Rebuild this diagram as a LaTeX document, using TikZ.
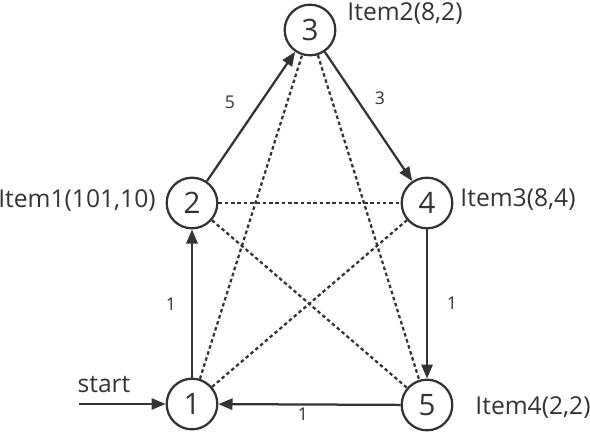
\documentclass[tikz,border=0pt]{standalone}
\usepackage{fontspec}
\setmainfont{Open Sans}
\usetikzlibrary{arrows.meta,positioning}

\begin{document}
\begin{tikzpicture}[x=0.025cm,y=-0.025cm,>={Triangle[length=10pt,width=8pt]},
  line width=1.6pt,draw=black!80,text=black!80,
  state/.style={draw,circle,minimum size=36pt,inner sep=0pt,font=\fontsize{21}{24}\selectfont},
  item/.style={font=\fontsize{17.5}{20}\selectfont},
  weight/.style={font=\fontsize{12.5}{14}\selectfont},
  link/.style={dash pattern=on 2.5pt off 2pt}]
\useasboundingbox (0,0) rectangle (590,434);
\node[state] (n1) at (192,404) {1};
\node[state] (n2) at (192,203) {2};
\node[state] (n3) at (310,30) {3};
\node[state] (n4) at (427,203) {4};
\node[state] (n5) at (427,405) {5};
\node[item] (i1) at (77,201) {Item1(101,10)};
\node[item] (i2) at (405,14) {Item2(8,2)};
\node[item] (i3) at (518,200) {Item3(8,4)};
\node[item] (i4) at (533,408) {Item4(2,2)};
\node[item] (st) at (104,385) {start};
\coordinate (s0) at (79,404);
% dotted links
\draw[link] (n2) -- (n4);
\draw[link] (n2) -- (n5);
\draw[link] (n1) -- (n3);
\draw[link] (n1) -- (n4);
\draw[link] (n3) -- (n5);
% path
\draw[->] (s0) -- (n1);
\draw[->] (n1) -- (n2);
\draw[->] (n2) -- (n3);
\draw[->] (n3) -- (n4);
\draw[->] (n4) -- (n5);
\draw[->] (n5) -- (n1);
\node[weight] (w12) at (171,304) {1};
\node[weight] (w23) at (230,102) {5};
\node[weight] (w34) at (380,98) {3};
\node[weight] (w45) at (452,303) {1};
\node[weight] (w51) at (303,414) {1};
\end{tikzpicture}
\end{document}
